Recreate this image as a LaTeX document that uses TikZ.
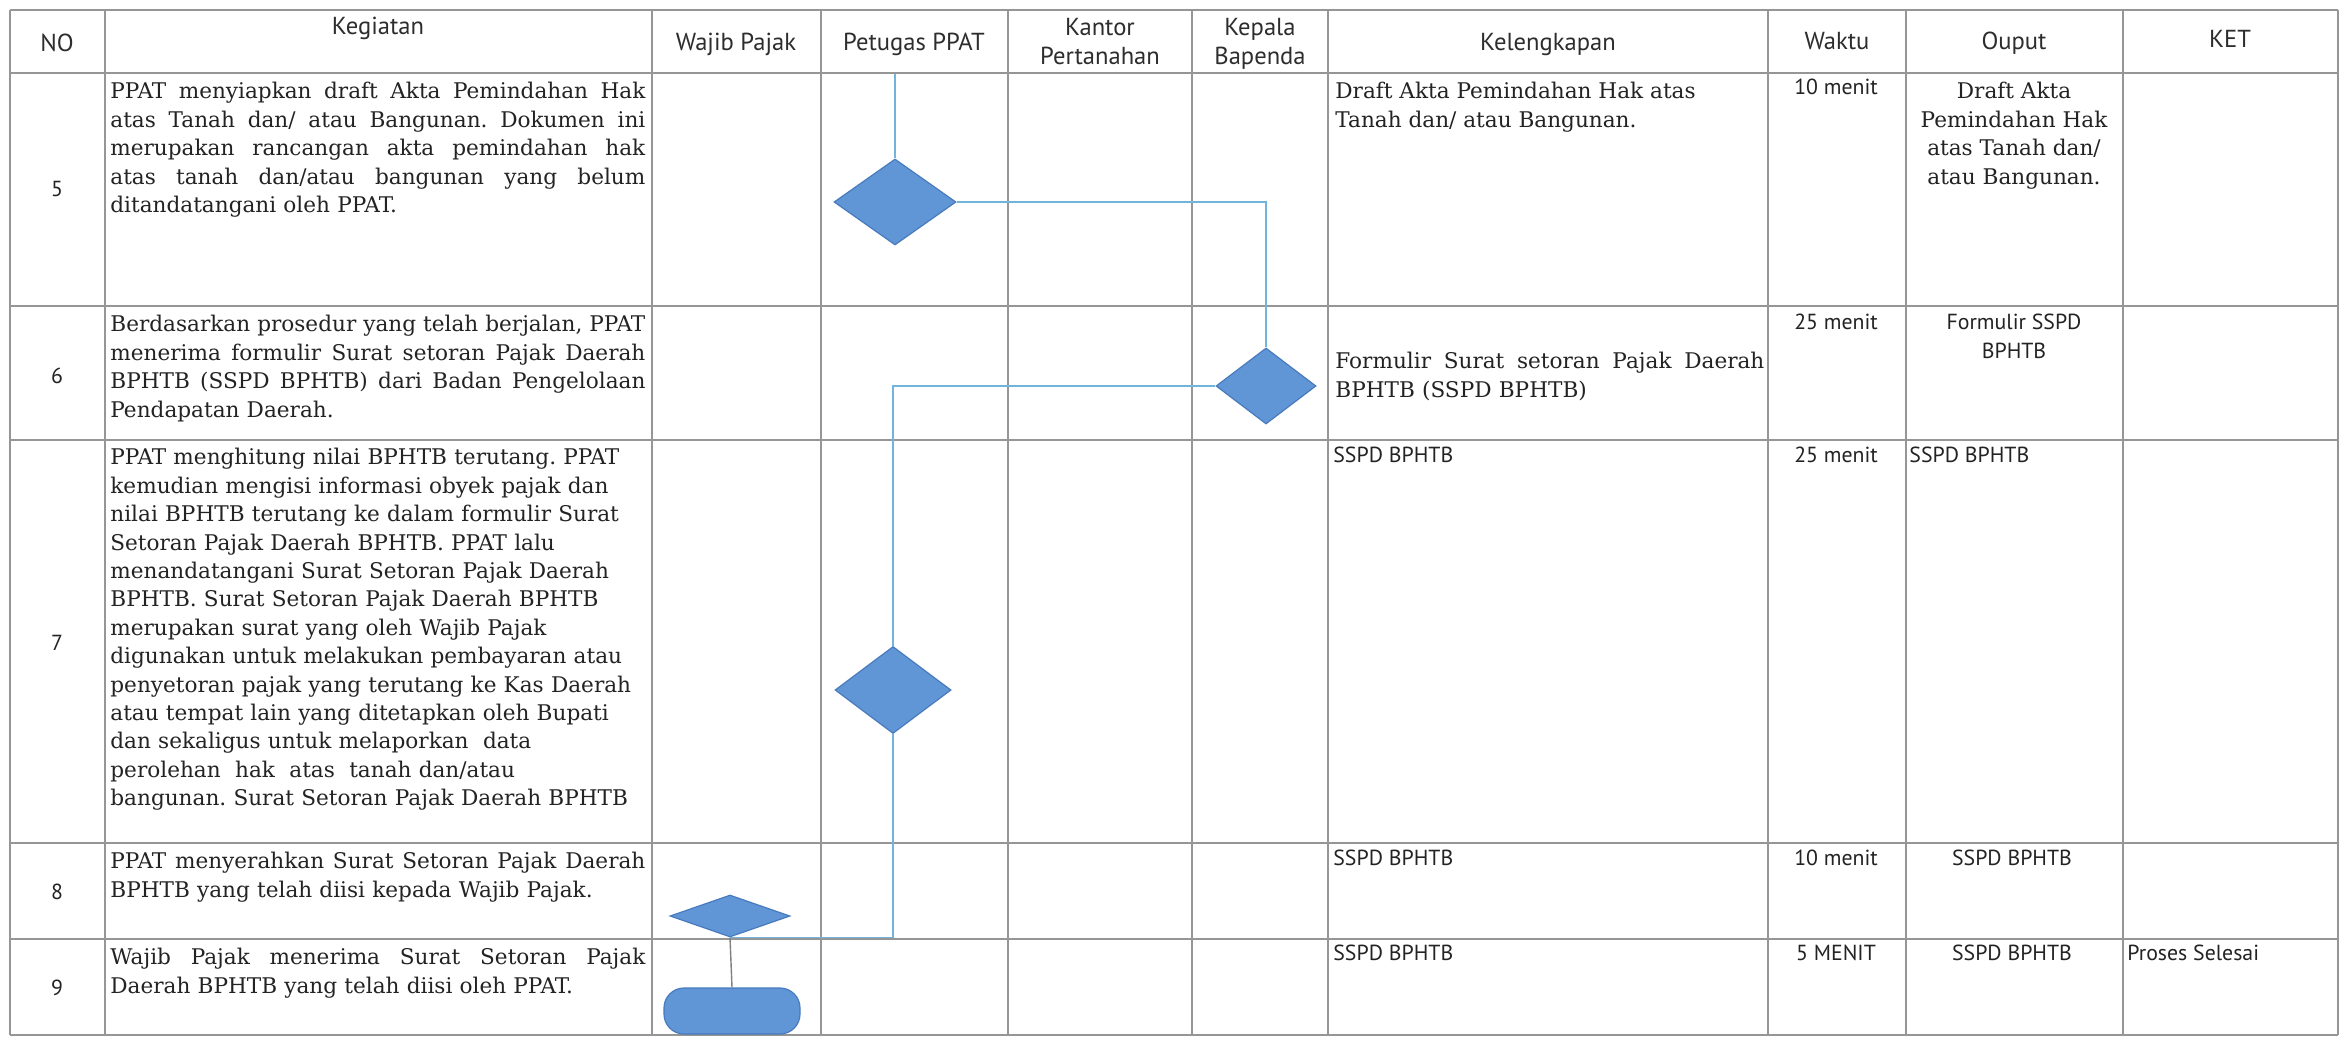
\documentclass[tikz,border=0pt]{standalone}
\usepackage{fontspec}
\setmainfont{DejaVu Serif}
\setsansfont{PT Sans}
\usetikzlibrary{shapes.geometric}

\definecolor{gridc}{RGB}{150,150,150}
\definecolor{shapefill}{RGB}{96,150,214}
\definecolor{shapedraw}{RGB}{72,122,190}
\definecolor{linkc}{RGB}{115,180,220}
\definecolor{txt}{RGB}{35,35,35}
\definecolor{headtxt}{RGB}{45,45,45}

\newcommand\jl[2]{\makebox[#1][s]{\spaceskip=0pt\xspaceskip=0pt #2}\\}

\tikzset{
  serif/.style={font=\fontsize{10.8}{14.2}\selectfont\rmfamily\frenchspacing, text=txt, inner sep=0pt},
  sans/.style={font=\fontsize{10.9}{14.5}\selectfont\sffamily, text=txt, inner sep=0pt},
  head/.style={font=\fontsize{12.3}{14.5}\selectfont\sffamily, text=headtxt, inner sep=0pt},
  dia/.style={diamond, draw=shapedraw, fill=shapefill, line width=0.6pt, inner sep=0pt},
  term/.style={rectangle, rounded corners=10pt, draw=shapedraw, fill=shapefill, line width=0.6pt, inner sep=0pt},
  link/.style={draw=linkc, line width=0.7pt},
  tabline/.style={draw=gridc, line width=0.8pt},
}

\begin{document}
\begin{tikzpicture}[x=0.5pt,y=-0.5pt]
\useasboundingbox (0,0) rectangle (2343,1037);
\fill[white] (0,0) rectangle (2343,1037);

% table grid
\foreach \yy in {10,73,306,440,843,939,1035}
  \draw[tabline] (10,\yy) -- (2338,\yy);
\foreach \xx in {10,105,652,821,1008,1192,1328,1768,1906,2123,2338}
  \draw[tabline] (\xx,10) -- (\xx,1035);

% header
\node[head, anchor=base] (hno) at (57,52) {NO};
\node[head, anchor=north] (hkeg) at (378,17) {Kegiatan};
\node[head, anchor=base] (hwp) at (736,51) {Wajib Pajak};
\node[head, anchor=base] (hpp) at (914,51) {Petugas PPAT};
\node[head, anchor=north, align=center] (hkp) at (1100,18) {Kantor\\Pertanahan};
\node[head, anchor=north, align=center] (hkb) at (1260,18) {Kepala\\Bapenda};
\node[head, anchor=base] (hkel) at (1548,51) {Kelengkapan};
\node[head, anchor=base] (hwak) at (1837,50) {Waktu};
\node[head, anchor=base] (hout) at (2014,50) {Ouput};
\node[head, anchor=base] (hket) at (2230,48) {KET};

% row numbers
\node[sans, anchor=base] (n5) at (57,197) {5};
\node[sans, anchor=base] (n6) at (57,384) {6};
\node[sans, anchor=base] (n7) at (57,650) {7};
\node[sans, anchor=base] (n8) at (57,899) {8};
\node[sans, anchor=base] (n9) at (57,995) {9};

% Kegiatan
\node[serif, anchor=north west, text width=267.5pt, align=left] (k5) at (110,82) {%
\jl{267.5pt}{PPAT menyiapkan draft Akta Pemindahan Hak}%
\jl{267.5pt}{atas Tanah dan/ atau Bangunan. Dokumen ini}%
\jl{267.5pt}{merupakan rancangan akta pemindahan hak}%
\jl{267.5pt}{atas tanah dan/atau bangunan yang belum}%
ditandatangani oleh PPAT.};
\node[serif, anchor=north west, text width=267.5pt, align=left] (k6) at (110,315) {%
\jl{267.5pt}{Berdasarkan prosedur yang telah berjalan, PPAT}%
\jl{267.5pt}{menerima formulir Surat setoran Pajak Daerah}%
\jl{267.5pt}{BPHTB (SSPD BPHTB) dari Badan Pengelolaan}%
Pendapatan Daerah.};
\node[serif, anchor=north west, text width=267.5pt, align=left] (k7) at (110,448) {%
PPAT menghitung nilai BPHTB terutang. PPAT\\
kemudian mengisi informasi obyek pajak dan\\
nilai BPHTB terutang ke dalam formulir Surat\\
Setoran Pajak Daerah BPHTB. PPAT lalu\\
menandatangani Surat Setoran Pajak Daerah\\
BPHTB. Surat Setoran Pajak Daerah BPHTB\\
merupakan surat yang oleh Wajib Pajak\\
digunakan untuk melakukan pembayaran atau\\
penyetoran pajak yang terutang ke Kas Daerah\\
atau tempat lain yang ditetapkan oleh Bupati\\
dan sekaligus untuk melaporkan\ \ data\\
perolehan\ \ hak\ \ atas\ \ tanah dan/atau\\
bangunan. Surat Setoran Pajak Daerah BPHTB};
\node[serif, anchor=north west, text width=267.5pt, align=left] (k8) at (110,852) {%
\jl{267.5pt}{PPAT menyerahkan Surat Setoran Pajak Daerah}%
BPHTB yang telah diisi kepada Wajib Pajak.};
\node[serif, anchor=north west, text width=267.5pt, align=left] (k9) at (110,948) {%
\jl{267.5pt}{Wajib Pajak menerima Surat Setoran Pajak}%
Daerah BPHTB yang telah diisi oleh PPAT.};

% Kelengkapan
\node[serif, anchor=north west, align=left] (l5) at (1335,82) {Draft Akta Pemindahan Hak atas\\Tanah dan/ atau Bangunan.};
\node[serif, anchor=north west, text width=214.5pt, align=left] (l6) at (1335,352) {%
\jl{214.5pt}{Formulir Surat setoran Pajak Daerah}%
BPHTB (SSPD BPHTB)};
\node[sans, anchor=base west] (l7) at (1333,462) {SSPD BPHTB};
\node[sans, anchor=base west] (l8) at (1333,865) {SSPD BPHTB};
\node[sans, anchor=base west] (l9) at (1333,960) {SSPD BPHTB};

% Waktu
\node[sans, anchor=base] (w5) at (1836,95) {10 menit};
\node[sans, anchor=base] (w6) at (1836,329) {25 menit};
\node[sans, anchor=base] (w7) at (1836,462) {25 menit};
\node[sans, anchor=base] (w8) at (1836,865) {10 menit};
\node[sans, anchor=base] (w9) at (1836,960) {5 MENIT};

% Ouput
\node[serif, anchor=north, align=center] (o5) at (2014,82) {Draft Akta\\Pemindahan Hak\\atas Tanah dan/\\atau Bangunan.};
\node[sans, anchor=north, align=center] (o6) at (2014,314) {Formulir SSPD\\BPHTB};
\node[sans, anchor=base west] (o7) at (1909,462) {SSPD BPHTB};
\node[sans, anchor=base] (o8) at (2012,865) {SSPD BPHTB};
\node[sans, anchor=base] (o9) at (2012,960) {SSPD BPHTB};

% KET
\node[sans, anchor=base west] (t9) at (2127,960) {Proses Selesai};

% flow shapes
\node[dia, minimum width=61pt, minimum height=43pt] (A) at (895,202) {};
\node[dia, minimum width=50pt, minimum height=38pt] (B) at (1266,386) {};
\node[dia, minimum width=58pt, minimum height=43.5pt] (C) at (893,690) {};
\node[dia, minimum width=60pt, minimum height=21pt] (D) at (730,916) {};
\node[term, minimum width=68pt, minimum height=23pt] (T) at (732,1011) {};

% connectors
\coordinate (s0) at (895,74);
\draw[link] (s0) -- (A.north);
\draw[link] (A.east) -| (B.north);
\draw[link] (B.west) -| (C.north);
\draw[link] (C.south) |- (D.south);
\draw[draw=gray, line width=0.7pt] (D.south) -- (T.north);
\end{tikzpicture}
\end{document}
